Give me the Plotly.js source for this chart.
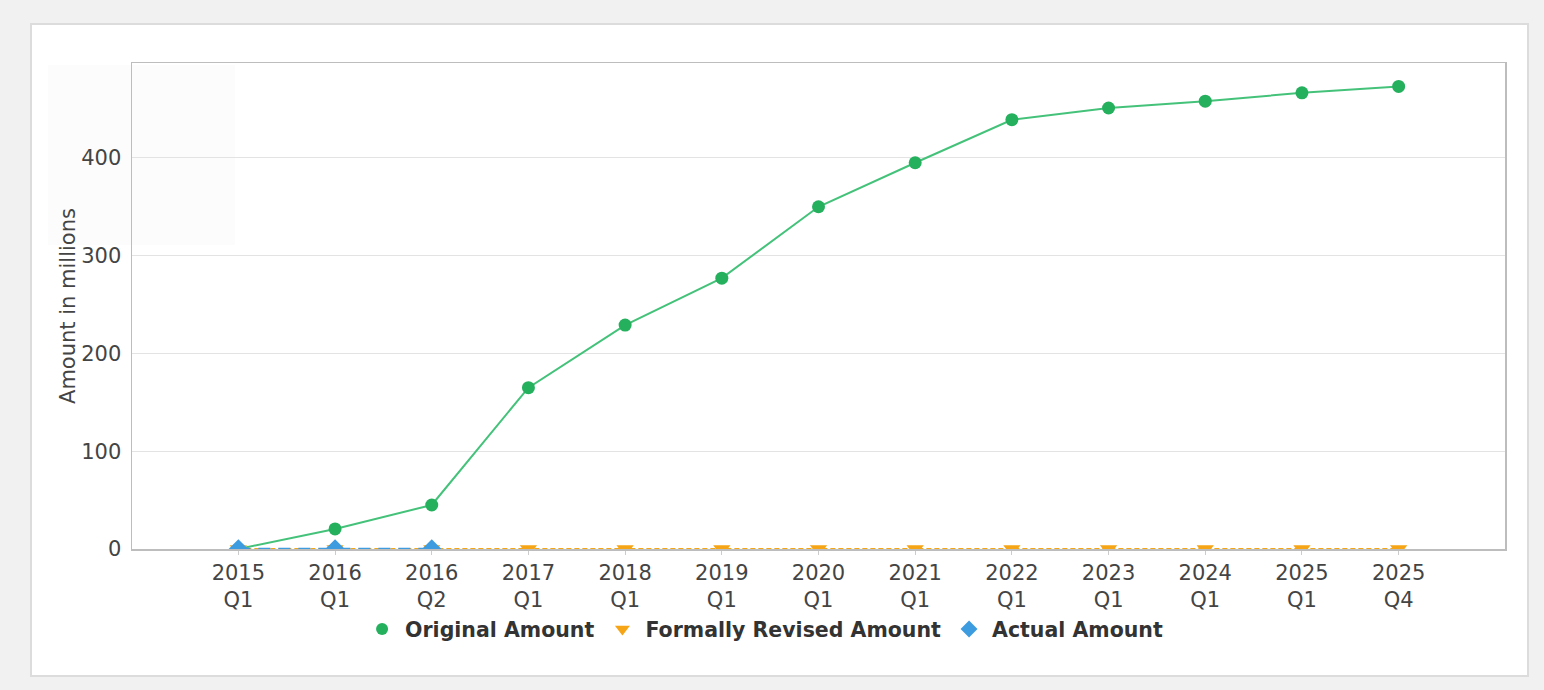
<!DOCTYPE html>
<html><head><meta charset="utf-8">
<script src="https://cdn.plot.ly/plotly-3.0.1.min.js"></script>
<style>
html,body{margin:0;padding:0;background:#f1f1f1;width:1544px;height:690px;overflow:hidden;}
#frame{position:absolute;left:30px;top:23px;width:1499px;height:654px;border:2px solid #dcdcdc;box-sizing:border-box;background:#fff;}
#ghost{position:absolute;left:16px;top:40px;width:187px;height:180px;background:#fcfcfc;}
#chart{position:absolute;left:0;top:0;width:1495px;height:650px;}
</style></head>
<body>
<div id="frame"><div id="ghost"></div><div id="chart"></div></div>
<script>
const categories = ["2015<br>Q1","2016<br>Q1","2016<br>Q2","2017<br>Q1","2018<br>Q1","2019<br>Q1","2020<br>Q1","2021<br>Q1","2022<br>Q1","2023<br>Q1","2024<br>Q1","2025<br>Q1","2025<br>Q4"];
const originalAmount = [0, 20.5, 45, 165, 229, 277, 350, 395, 439, 451, 458, 466.5, 473];
const revisedAmount = [0,0,0,0,0,0,0,0,0,0,0,0,0];
const actualCategories = ["2015<br>Q1","2016<br>Q1","2016<br>Q2"];
const actualAmount = [0,0,0];

const GREEN = "#25b05e", ORANGE = "#f5a516", BLUE = "#3d9be0";
const traces = [
  {x: categories, y: originalAmount, name: "Original Amount", type: "scatter", mode: "lines+markers",
   line: {color: "#44c27a", width: 2}, marker: {symbol: "circle", size: 13, color: GREEN}, showlegend: false},
  {x: categories, y: revisedAmount, name: "Formally Revised Amount", type: "scatter", mode: "lines+markers",
   line: {color: ORANGE, width: 2, dash: "5px,3px"}, marker: {symbol: "triangle-down", size: 15, color: ORANGE}, showlegend: false},
  {x: actualCategories, y: actualAmount, name: "Actual Amount", type: "scatter", mode: "lines+markers",
   line: {color: BLUE, width: 2.5, dash: "12px,8px"}, marker: {symbol: "diamond", size: 15, color: BLUE}, showlegend: false},
  {x: [null], y: [null], name: "Original Amount", type: "scatter", mode: "markers",
   marker: {symbol: "circle", size: 12, color: GREEN}},
  {x: [null], y: [null], name: "Formally Revised Amount", type: "scatter", mode: "markers",
   marker: {symbol: "triangle-down", size: 13, color: ORANGE}},
  {x: [null], y: [null], name: "Actual Amount", type: "scatter", mode: "markers",
   marker: {symbol: "diamond", size: 13, color: BLUE}}
];

const layout = {
  width: 1495, height: 650,
  margin: {l: 100, r: 22, t: 38, b: 126},
  paper_bgcolor: "rgba(0,0,0,0)", plot_bgcolor: "rgba(0,0,0,0)",
  font: {family: "DejaVu Sans, sans-serif", size: 21, color: "#444"},
  showlegend: true,
  legend: {orientation: "h", x: 0.46, xanchor: "center", y: -0.165, yanchor: "middle",
           font: {family: "DejaVu Sans, sans-serif", size: 20.5, color: "#333", weight: "bold"},
           traceorder: "normal", itemwidth: 36},
  xaxis: {type: "category", categoryorder: "array", categoryarray: categories,
          range: [-1.1, 13.1], autorange: false, showgrid: false, showline: true, mirror: true, linecolor: "#bdbdbd", linewidth: 1.5,
          ticks: "outside", ticklen: 4, tickcolor: "#cccccc", tickfont: {size: 21, color: "#444"}, zeroline: false, fixedrange: true},
  yaxis: {range: [0, 497], autorange: false, tickvals: [0,100,200,300,400], showgrid: true, gridcolor: "#e3e3e3", gridwidth: 1,
          showline: true, mirror: true, linecolor: "#bdbdbd", linewidth: 1.5, zeroline: false,
          ticks: "outside", ticklen: 5, tickcolor: "rgba(0,0,0,0)", tickfont: {size: 21, color: "#444"},
          title: {text: "Amount in millions", font: {size: 21, color: "#444"}, standoff: 0}}
};
Plotly.newPlot("chart", traces, layout, {displayModeBar: false, staticPlot: true});
</script>
</body></html>
